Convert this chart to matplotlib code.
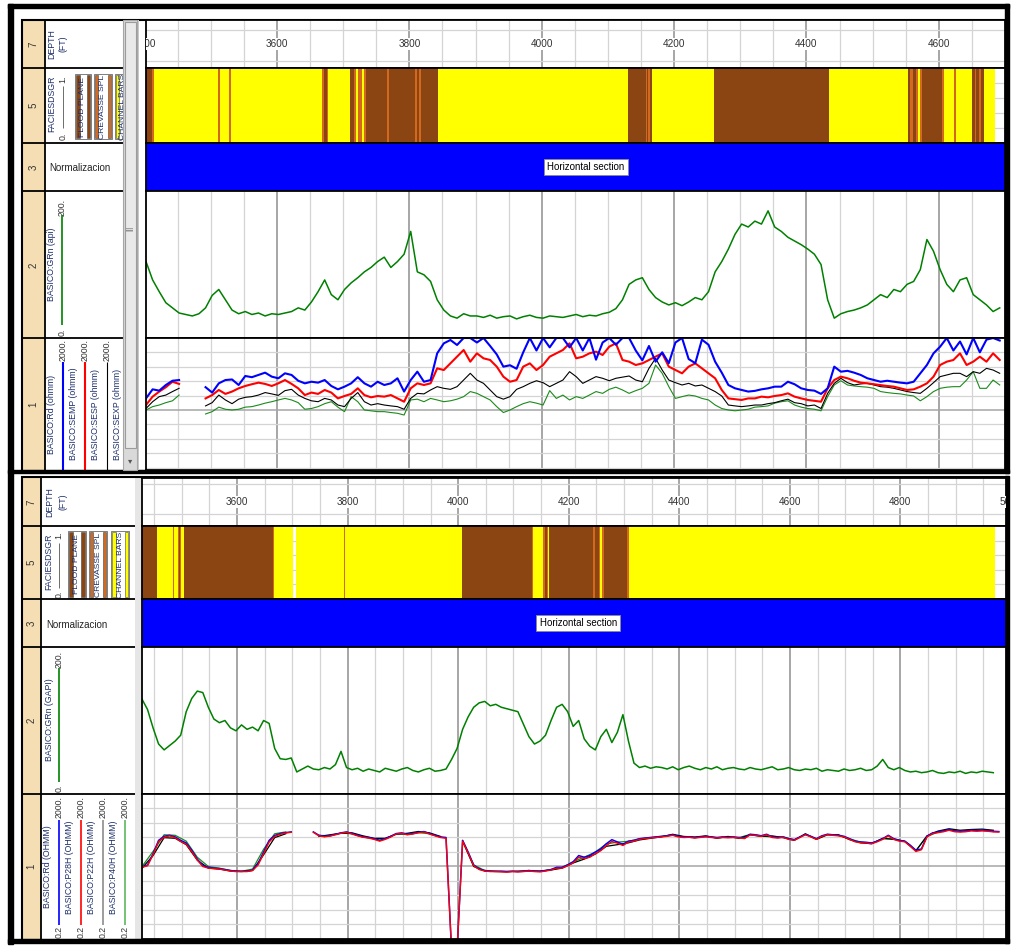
import numpy as np
import matplotlib.pyplot as plt
from matplotlib.patches import Rectangle
from matplotlib.transforms import blended_transform_factory

plt.rcParams['font.family'] = ['Liberation Sans', 'DejaVu Sans']

nan = np.nan

# ---------------- upper view (3402 - 4700 ft) ----------------
top_range = (3402, 4700)
top_depth = np.arange(3402, 4693, 10)

top_fac_bounds = [3402, 3411, 3414, 3511, 3514, 3527, 3530, 3668, 3671, 3675, 3677, 3711,
                  3716, 3719, 3723, 3728, 3731, 3734, 3766, 3769, 3808, 3811, 3814, 3817,
                  3843, 4130, 4157, 4159, 4161, 4163, 4166, 4261, 4434, 4554, 4557, 4561,
                  4565, 4568, 4572, 4575, 4605, 4608, 4623, 4626, 4650, 4654, 4656, 4661,
                  4663, 4668, 4685]
top_fac_codes = ['FP', 'CS', 'CB', 'CS', 'CB', 'CS', 'CB', 'CS', 'FP', 'CS', 'CB', 'FP',
                 'CS', 'CB', 'CS', 'CB', 'CS', 'FP', 'CS', 'FP', 'CS', 'FP', 'CS', 'FP',
                 'CB', 'FP', 'CS', 'FP', 'CS', 'FP', 'CB', 'FP', 'CB', 'FP', 'CS', 'FP',
                 'CS', 'CB', 'CS', 'FP', 'CS', 'CB', 'CS', 'CB', 'FP', 'CS', 'FP', 'CS',
                 'FP', 'CB']

top_gr = [104, 79, 63, 48, 41, 34, 32, 30, 33, 41, 58, 66, 52, 38, 33, 36, 32, 34, 30, 33,
          32, 34, 36, 41, 38, 49, 63, 79, 59, 52, 66, 75, 82, 90, 96, 104, 110, 96, 104, 114,
          145, 90, 86, 77, 52, 38, 30, 27, 33, 30,
          30, 28, 31, 27, 29, 30, 26, 29, 31, 28, 27, 30, 29, 28, 30, 32, 29, 31, 30, 33, 35, 40,
          52, 73, 79, 82, 66, 55, 49, 45, 48, 44, 49, 55, 52, 63, 90, 104, 121, 141, 155, 151,
          159, 155, 173, 151, 145, 137, 132, 127, 121, 114, 100, 52, 27, 33, 36, 38, 41, 45, 52, 59,
          55, 66, 63, 73, 77, 93, 134, 118, 93, 73, 63, 79, 82, 59, 52, 45, 36, 41]

top_rd = [42, 75, 69, 99, 130, 136, nan, nan, nan,
          86, 61, 110, 136, 141, 99, 176, 163, 188, 218, 169, 152, 209, 188, 130, 110, 122, 115,
          136, 93, 75, 89, 110, 163, 110, 89, 122, 99, 110, 152, 65, 136, 232, 122, 136, 750,
          1420, 1760, 1280, 2000,
          2000, 1500, 2000, 1200, 700, 320, 350, 280, 800, 2000, 900, 2000, 1100, 2000,
          2000, 1100, 2000, 900, 2000, 500, 1500, 2000, 1300, 2000, 2000, 900, 480, 1200, 440,
          800, 400, 1500, 2000, 520, 400, 1800, 1300,
          440, 218, 99, 80, 72, 65, 68, 75, 80, 89, 89, 122, 104, 80, 72, 69, 56, 80, 320, 232,
          245, 218, 188, 152, 136, 122, 130, 122, 115, 110, 122, 209, 356, 750, 1150, 2000, 900,
          1600, 700, 2000, 800, 1800, 2000, 1700]

top_semp = [27.5, 47, 65, 86, 122, 106, nan, nan, nan,
            42, 52, 72, 56, 65, 80, 93, 104, 115, 106, 93, 110, 136, 106, 80, 52, 61, 56, 72, 61,
            42, 49, 56, 80, 52, 45, 49, 47, 52, 42, 34, 80, 110, 99, 110, 287, 258, 395, 605, 930,
            440, 750, 545, 490, 320, 169, 122, 136, 320, 395, 258, 356, 605, 750,
            930, 1420, 545, 605, 750, 835, 675, 1150, 1420, 490, 440, 356, 395, 490, 605, 750,
            320, 258, 209, 320, 395, 287, 209,
            152, 72, 42, 40, 38, 42, 42, 47, 45, 49, 52, 58, 47, 42, 38, 36, 34, 80, 136, 169,
            152, 130, 115, 110, 104, 99, 93, 89, 80, 72, 75, 89, 110, 169, 356, 440, 490, 750,
            356, 440, 605, 440, 750, 490]

top_sesp = [22, 34, 47, 52, 65, 80, nan, nan, nan,
            26, 32, 52, 38, 30, 40, 45, 47, 52, 61, 56, 51, 69, 75, 52, 42, 36, 34, 42, 38,
            27.5, 24.8, 42, 61, 34, 27.5, 30, 27.5, 26, 24.8, 21, 42, 58, 56, 72, 89, 80, 75, 89, 136,
            209, 136, 110, 72, 47, 40, 47, 75, 89, 110, 130, 115, 89, 110,
            136, 232, 169, 110, 136, 169, 152, 130, 152, 163, 176, 136, 122, 287, 545, 258, 136,
            115, 99, 110, 93, 99, 80,
            65, 49, 27.5, 26, 24.8, 26, 27.5, 27.5, 30, 32, 36, 40, 32, 30, 26, 27.5, 22, 58, 110,
            152, 115, 99, 106, 110, 99, 89, 86, 80, 72, 65, 61, 58, 80, 115, 169, 188, 209, 209,
            169, 232, 209, 287, 258, 209]

top_sexp = [20, 24.8, 27.5, 32, 36, 52, nan, nan, nan,
            15.5, 18, 24, 21, 20, 21, 24, 24.8, 27.5, 31, 34, 38, 42, 38, 32, 21, 22, 24.8, 30, 34,
            24, 18, 47, 34, 20, 19, 18, 18, 17, 16.2, 14.5, 38, 40, 34, 42, 38, 34, 36, 40, 47,
            65, 58, 47, 38, 24.8, 17, 20, 24.8, 30, 34, 31, 27.5, 69, 42,
            52, 38, 47, 42, 52, 65, 58, 75, 86, 72, 58, 69, 80, 110, 356, 209, 89, 42, 47, 52, 49,
            42, 38,
            27.5, 22, 20, 19, 20, 21, 24, 24.8, 26, 31, 34, 36, 27.5, 24, 22, 21, 19, 47, 99, 130,
            99, 93, 89, 86, 80, 65, 61, 58, 56, 52, 49, 36, 47, 65, 80, 86, 89, 89, 136, 232, 80,
            80, 136, 99]

# ---------------- lower view (3428 - 4991 ft) ----------------
bot_range = (3428, 4991)
bot_gr_depth = np.arange(3428, 4969, 10)
bot_res_depth = np.arange(3428, 4979, 10)
bot_res_depth20 = np.arange(3428, 4969, 20)

bot_fac_bounds = [3428, 3455, 3484, 3486, 3493, 3495, 3497, 3499, 3504, 3665, 3667, 3701,
                  3706, 3793, 3796, 4006, 4133, 4136, 4154, 4157, 4160, 4162, 4164, 4243,
                  4247, 4254, 4256, 4261, 4263, 4306, 4309, 4971]
bot_fac_codes = ['FP', 'CB', 'CS', 'CB', 'CS', 'FP', 'CS', 'CB', 'FP', 'CS', 'CB', None,
                 'CB', 'CS', 'CB', 'FP', 'CS', 'CB', 'CS', 'FP', 'CS', 'CB', 'FP', 'CS',
                 'FP', 'CS', 'CB', 'CS', 'FP', 'CS', 'CB']

bot_gr = [129, 115, 90, 68, 60, 66, 72, 80, 112, 130, 140, 138, 118, 102, 97, 100, 90, 86, 94, 88,
          91, 86, 100, 96, 62, 48, 47, 49,
          30, 34, 38, 34, 33, 36, 34, 40, 58, 36, 33, 35, 31, 34, 32, 30, 35, 33, 31, 34, 36, 32,
          30, 33, 35, 31, 32, 34,
          47, 62, 88, 105, 118, 124, 126, 120, 122, 118, 116, 114, 112, 95, 78, 68, 72, 80, 100,
          118, 122, 112, 92, 100, 75, 65, 60, 78, 88, 70, 84, 108, 72, 42, 36,
          38, 35, 37, 36, 34, 37, 33, 36, 38, 35, 33, 36, 34, 37, 33, 35, 36, 34, 33, 36,
          34, 33, 35, 37, 33, 34, 36, 33, 32, 34, 33, 35, 31, 33, 32, 31, 34, 32, 33, 35,
          32, 33, 38, 47, 36, 33, 36, 32, 30, 31, 29, 30, 32, 29, 28, 30, 29, 31, 28, 30,
          29, 31, 30, 29]

bot_rd = [19, 22, 45, 105, 136, 145, 131, 105, 89, 56, 32, 21, 19, 18, 17.5, 16.5, 15.5, 14.8,
          14.8, 14.8, 16, 24, 50, 105, 143, 162, 172, 180,
          nan, nan, nan,
          180, 145, 136, 141, 155, 169, 180, 162, 145, 131, 126, 117, 105, 117, 136, 162, 169, 155,
          162, 176, 184, 162, 145, 131, 126,
          0.1, 0.1,
          105, 50, 22, 17, 15.5, 14.8, 14.8, 14.8, 14.5, 14.8, 14.5, 14.8, 15.5, 14.8, 14.8, 15.5,
          16.5, 19,
          19, 22, 27, 40, 36, 40, 50, 61, 85, 110, 95, 81, 100, 105, 117, 122, 126, 131, 136, 141,
          150, 136, 131, 131, 126, 131, 136, 131, 126, 131, 128, 131, 126, 122, 155, 150, 141, 155,
          131, 126, 131, 117, 110, 131, 155, 136, 117, 141, 155, 150, 145, 136, 117, 100, 95, 93,
          89, 100, 117, 145, 117, 105, 100, 77, 56, 61, 136, 169, 180, 191, 209, 191, 187, 191,
          200, 196, 200, 196, 187, 184]

bot_p28h = [19, 21, 42, 98, 128, 140, 124, 98, 82, 52, 30, 20, 18, 17.5, 17, 16, 15, 14.5, 14.5,
            14.5, 15.5, 22, 45, 95, 135, 155, 168, 176,
            nan, nan, nan,
            175, 140, 132, 138, 150, 165, 176, 158, 140, 128, 122, 112, 100, 112, 130, 158, 165,
            150, 158, 170, 178, 158, 140, 126, 120,
            0.1, 0.1,
            100, 47, 21, 16.5, 15, 14.5, 14.5, 14.2, 14, 14.5, 14.2, 14.5, 15, 14.5, 14.2, 15, 16, 18,
            18, 21, 25, 36, 33, 36, 45, 55, 75, 98, 88, 76, 94, 100, 112, 118, 122, 126, 131, 136,
            145, 131, 126, 128, 122, 127, 131, 126, 122, 127, 124, 127, 122, 118, 148, 145, 136, 150,
            126, 122, 127, 112, 106, 126, 150, 131, 112, 136, 150, 145, 140, 131, 112, 96, 90, 89,
            85, 96, 112, 140, 112, 100, 96, 72, 52, 58, 130, 162, 172, 182, 200, 182, 178, 182,
            192, 188, 192, 188, 180, 178]

bot_p22h = [18, 40, 125, 120, 80, 30, 18, 17, 15, 14.5, 15.5, 42, 125, 160, nan, nan, 135, 150,
            165, 170, 140, 120, 120, 155, 165, 185, 170, 135, nan, 100, 20, 15, 14.5, 14.5, 14.8,
            15, 14.8, 16, 18, 25, 32, 44, 72, 80, 90, 108, 120, 132, 155, 135, 130, 140, 120, 135,
            120, 150, 135, 140, 125, 105, 160, 112, 150, 150, 110, 90, 85, 120, 112, 98, 54, 140,
            190, 220, 200, 210, 215, 200]

bot_p40h = [20, 52, 150, 145, 100, 36, 20, 18, 15.5, 14.8, 17, 60, 160, 180, nan, nan, 145, 140,
            168, 160, 130, 116, 116, 160, 152, 172, 160, 130, nan, 104, 22, 15.5, 14.8, 14.5,
            14.6, 15.5, 14.8, 16.5, 19, 27, 36, 50, 84, 94, 99, 116, 125, 135, 148, 130, 125, 135,
            125, 127, 125, 153, 140, 130, 130, 109, 153, 116, 153, 144, 116, 94, 88, 116, 116, 99,
            55, 135, 178, 206, 185, 198, 198, 185]

depth_labels = [3400, 3600, 3800, 4000, 4200, 4400, 4600, 4800, 5000]
zone_name = 'Horizontal section'

# ---------------- styling ----------------
W, H = 1014, 948
NAVY = '#1d2f6b'
WHEAT = '#F5DEB3'
FAC_COL = {'FP': '#8B4513', 'CS': '#D2691E', 'CB': '#FFFF00'}
GRID_MIN = '#d4d4d4'
GRID_MAJ = '#a6a6a6'

fig = plt.figure(figsize=(W / 100, H / 100), dpi=100)
fig.patch.set_facecolor('white')

bg = fig.add_axes([0, 0, 1, 1])
bg.set_xlim(0, W)
bg.set_ylim(H, 0)
bg.axis('off')


def rect(x, y, w, h, **kw):
    bg.add_patch(Rectangle((x, y), w, h, **kw))


def vtext(x, y, s, size=6.3, color=NAVY, z=3):
    bg.text(x, y, s, rotation=90, ha='center', va='center', fontsize=size, color=color, zorder=z)


def hline(y, x0, x1, lw=1.3):
    bg.plot([x0, x1], [y, y], color='black', lw=lw, zorder=4, solid_capstyle='butt')


def vline(x, y0, y1, color='black', lw=1.3, z=4):
    bg.plot([x, x], [y0, y1], color=color, lw=lw, zorder=z, solid_capstyle='butt')


def add_track(x0, y0, x1, y1, dlim):
    ax = fig.add_axes([x0 / W, 1 - y1 / H, (x1 - x0) / W, (y1 - y0) / H])
    ax.set_xlim(*dlim)
    ax.set_xticks([])
    ax.set_yticks([])
    ax.set_facecolor('white')
    for sp in ax.spines.values():
        sp.set_linewidth(1.3)
        sp.set_color('black')
    return ax


def vgrid(ax, dlim):
    for d in range(3400, 5001, 50):
        if dlim[0] < d < dlim[1]:
            if d % 200 == 0:
                ax.axvline(d, color=GRID_MAJ, lw=1.4, zorder=0)
            else:
                ax.axvline(d, color=GRID_MIN, lw=0.9, zorder=0)


def facies_key(x0, x1, y0, y1, bw, color, label):
    rect(x0, y0, x1 - x0, y1 - y0, fc='white', ec='#6a6a6a', lw=0.6, zorder=2)
    rect(x0 + 1, y0 + 1, bw, y1 - y0 - 2, fc=color, ec='#444444', lw=0.4, zorder=2)
    rect(x1 - 1 - bw, y0 + 1, bw, y1 - y0 - 2, fc=color, ec='#444444', lw=0.4, zorder=2)
    vtext((x0 + x1) / 2, (y0 + y1) / 2, label, size=6.1)


def build_panel(left, right, rows, dlim, fac_bounds, fac_codes, zone_x, depth_h,
                gr_depth, gr_vals, res_curves, res_ylim):
    # depth scale
    ax = add_track(left, rows[0], right, rows[1], dlim)
    vgrid(ax, dlim)
    for f in depth_h:
        ax.axhline(f, color=GRID_MIN, lw=0.9, zorder=0)
    tr = blended_transform_factory(ax.transData, ax.transAxes)
    for d in depth_labels:
        # labels straddling the track ends are drawn and cut by the track edge
        if dlim[0] - 15 < d < dlim[1] + 15:
            ax.text(d, 0.5, str(d), transform=tr, ha='center', va='center', fontsize=7.2,
                    color='#333333', clip_on=True, zorder=3,
                    bbox=dict(boxstyle='square,pad=0.12', fc='white', ec='none'))

    # facies
    ax = add_track(left, rows[1], right, rows[2], dlim)
    vgrid(ax, dlim)
    for f in [0.2, 0.4, 0.6, 0.8]:
        ax.axhline(f, color=GRID_MIN, lw=0.9, zorder=0)
    for top, base, code in zip(fac_bounds[:-1], fac_bounds[1:], fac_codes):
        if code is not None:
            ax.axvspan(top, base, color=FAC_COL[code], lw=0, zorder=1)

    # zone band
    ax = add_track(left, rows[2], right, rows[3], dlim)
    ax.axvspan(dlim[0], dlim[1], color='#0000FF', lw=0)
    ax.text(zone_x, 0.5, zone_name, transform=ax.transAxes, ha='center', va='center',
            fontsize=7, color='black',
            bbox=dict(boxstyle='square,pad=0.35', fc='white', ec='#8a8a8a', lw=0.6))

    # gamma ray
    ax = add_track(left, rows[3], right, rows[4], dlim)
    vgrid(ax, dlim)
    ax.set_ylim(0, 200)
    ax.plot(gr_depth, gr_vals, color='#008000', lw=1.1)

    # resistivity
    ax = add_track(left, rows[4], right, rows[5], dlim)
    ax.set_yscale('log')
    ax.set_ylim(*res_ylim)
    ax.set_yticks([])
    ax.minorticks_off()
    vgrid(ax, dlim)
    levels = [10 ** (np.log10(0.2) + 0.4 * i) for i in range(1, 10)]
    for i, v in enumerate(levels):
        ax.axhline(v, color=GRID_MAJ if i == 4 else GRID_MIN, lw=1.1 if i == 4 else 0.9, zorder=0)
    for d, v, c, lw in res_curves:
        ax.plot(d, v, color=c, lw=lw)


# ---------------- frames ----------------
rect(8, 4, 1001, 3.5, color='black', zorder=5)
rect(8, 4, 5, 940, color='black', zorder=5)
rect(8, 469.5, 1001, 3.5, color='black', zorder=5)
rect(8, 939, 1001, 4, color='black', zorder=5)
rect(1005, 4, 3.5, 469, color='black', zorder=5)
rect(1005, 476, 3.5, 467, color='black', zorder=5)
rect(22, 20, 984, 451, fill=False, ec='black', lw=1.5, zorder=5)
rect(22, 477, 985, 463, fill=False, ec='black', lw=1.5, zorder=5)

# ---------------- upper header ----------------
rect(22, 20, 23, 450, fc=WHEAT, ec='none', zorder=1)
vline(45, 20, 470)
for y in [68, 143, 191, 338]:
    hline(y, 22, 123)
for y, s in [(44, '7'), (105, '5'), (167, '3'), (265, '2'), (404, '1')]:
    vtext(33.5, y, s, size=7, color='#333333')

vtext(52, 44, 'DEPTH')
vtext(63, 44, '(FT)')
vtext(52, 104, 'FACIESDSGR')
vtext(63, 136, '0.', color='#333333')
vtext(63, 79, '1.', color='#333333')
vline(63, 86, 128, color='#555555', lw=0.6, z=3)
facies_key(75, 91, 74, 139, 3.5, FAC_COL['FP'], 'FLOOD PLANE')
facies_key(94, 112, 74, 139, 3.0, FAC_COL['CS'], 'CREVASSE SPL')
facies_key(115, 131, 74, 139, 2.5, FAC_COL['CB'], 'CHANNEL BARS')
bg.text(49, 168, 'Normalizacion', ha='left', va='center', fontsize=7, color='#222222')

vtext(52, 264, 'BASICO:GRn (api)')
vtext(62, 207, '200.', color='#333333')
vtext(62, 332, '0.', color='#333333')
vline(62, 215, 325, color='#008000', lw=1.2, z=3)

for x, s, c, lw in [(52, 'BASICO:Rd (ohmm)', '#0000ff', 1.5),
                    (74, 'BASICO:SEMP (ohmm)', '#ff0000', 1.5),
                    (96, 'BASICO:SESP (ohmm)', '#000000', 0.8),
                    (118, 'BASICO:SEXP (ohmm)', '#008000', 0.8)]:
    vtext(x, 414, s)
    if x < 110:
        vtext(x + 11, 350, '2000.', color='#333333')
        vline(x + 11, 362, 470, color=c, lw=lw, z=3)

# scroll bar
rect(123, 20, 14, 450, fc='#d9d9d9', ec='#a8a8a8', lw=0.8, zorder=6)
rect(124.5, 22, 11, 426, fc='#e9e9e9', ec='#9c9c9c', lw=0.8, zorder=6)
bg.text(130, 228, '|||', rotation=90, ha='center', va='center', fontsize=5, color='#777777', zorder=7)
bg.text(130, 462, '\u25BE', ha='center', va='center', fontsize=6, color='#555555', zorder=7)
rect(137.5, 20, 1.5, 450, fc='#c8c8c8', ec='none', zorder=6)

# ---------------- lower header ----------------
rect(22, 477, 19, 462, fc=WHEAT, ec='none', zorder=1)
vline(41, 477, 939)
rect(135, 477, 7, 462, fc='#e6e6e6', ec='none', zorder=1)
for y in [526, 599, 647, 794]:
    hline(y, 22, 135)
for y, s in [(502, '7'), (562, '5'), (623, '3'), (720, '2'), (866, '1')]:
    vtext(31.5, y, s, size=7, color='#333333')

vtext(50, 502, 'DEPTH')
vtext(63, 502, '(FT)')
vtext(49, 562, 'FACIESDSGR')
vtext(59, 594, '0.', color='#333333')
vtext(59, 535, '1.', color='#333333')
vline(59, 543, 588, color='#555555', lw=0.6, z=3)
facies_key(68, 86, 531, 598, 4.0, FAC_COL['FP'], 'FLOOD PLANE')
facies_key(89, 107, 531, 598, 3.0, FAC_COL['CS'], 'CREVASSE SPL')
facies_key(111, 129, 531, 598, 3.5, FAC_COL['CB'], 'CHANNEL BARS')
bg.text(46, 625, 'Normalizacion', ha='left', va='center', fontsize=7, color='#222222')

vtext(49, 720, 'BASICO:GRn (GAPI)')
vtext(59, 660, '200.', color='#333333')
vtext(59, 788, '0.', color='#333333')
vline(59, 668, 782, color='#008000', lw=1.2, z=3)

for x, s, c in [(48, 'BASICO:Rd (OHMM)', '#0000ff'),
                (70, 'BASICO:P28H (OHMM)', '#ff0000'),
                (92, 'BASICO:P22H (OHMM)', '#8c8c8c'),
                (114, 'BASICO:P40H (OHMM)', '#5cb85c')]:
    vtext(x, 867, s)
    vtext(x + 11, 807, '2000.', color='#333333')
    vtext(x + 11, 932, '0.2', color='#333333')
    vline(x + 11, 820, 925, color=c, lw=1.2, z=3)

# ---------------- tracks ----------------
build_panel(146, 1005, [20, 68, 143, 191, 338, 470], top_range,
            top_fac_bounds, top_fac_codes, 0.512, [0.80, 0.15],
            top_depth, top_gr,
            [(top_depth, top_sexp, '#1a8a1a', 0.8),
             (top_depth, top_sesp, '#000000', 0.8),
             (top_depth, top_semp, '#ff0000', 1.5),
             (top_depth, top_rd, '#0000ff', 1.5)],
            (10 ** (3.301 - 132 / 36), 2000))

build_panel(142, 1006, [478, 526, 599, 647, 794, 939], bot_range,
            bot_fac_bounds, bot_fac_codes, 0.505, [0.87, 0.24],
            bot_gr_depth, bot_gr,
            [(bot_res_depth20, bot_p40h, '#1a8a1a', 0.9),
             (bot_res_depth20, bot_p22h, '#000000', 0.9),
             (bot_res_depth, bot_rd, '#0000ff', 1.1),
             (bot_res_depth, bot_p28h, '#ff0000', 1.0)],
            (0.2, 2000))

fig.savefig('out.png', dpi=100)
